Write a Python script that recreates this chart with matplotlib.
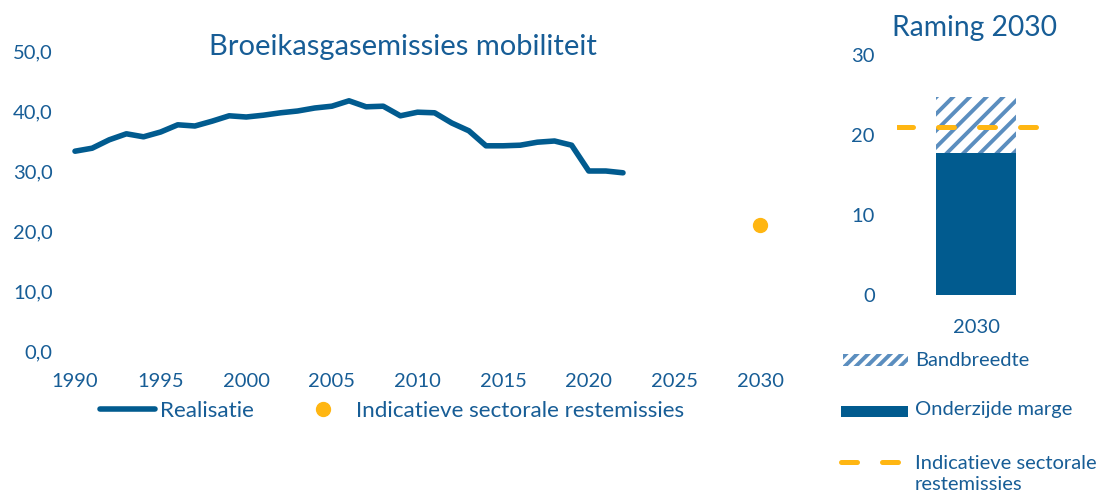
import matplotlib.pyplot as plt
from matplotlib.patches import Rectangle
from matplotlib.lines import Line2D

plt.rcParams['font.family'] = ['Lato', 'DejaVu Sans']
plt.rcParams['hatch.linewidth'] = 2.8

# data
years = list(range(1990, 2023))
realisatie = [33.3, 33.8, 35.2, 36.2, 35.7, 36.5, 37.7, 37.5, 38.3, 39.2,
              39.0, 39.3, 39.7, 40.0, 40.5, 40.8, 41.7, 40.7, 40.8, 39.2,
              39.8, 39.7, 38.0, 36.7, 34.2, 34.2, 34.3, 34.8, 35.0, 34.3,
              30.0, 30.0, 29.7]
target_year = [2030]
target_value = [21.0]
x_ticks = list(range(1990, 2031, 5))
y_ticks_left = [0, 10, 20, 30, 40, 50]

raming_label = ['2030']
onderzijde = [17.8]
bovenzijde = [24.8]
indicatief = 21.0
y_ticks_right = [0, 10, 20, 30]

BLUE = '#015B8F'
HATCH = '#5B8EBF'
ORANGE = '#FFB612'
TEXT = '#175D96'

W, H = 1096, 494
fig = plt.figure(figsize=(W / 100, H / 100), dpi=100)

# left chart
ax = fig.add_axes([75 / W, 143 / H, 685 / W, 300 / H])
ax.plot(years, realisatie, color=BLUE, lw=4, solid_capstyle='round',
        solid_joinstyle='round', clip_on=False, label='Realisatie')
ax.plot(target_year, target_value, 'o', color=ORANGE, ms=10, clip_on=False,
        label='Indicatieve sectorale restemissies')
ax.set_xlim(1990, 2030)
ax.set_ylim(0, 50)
ax.set_xticks(x_ticks)
ax.set_yticks(y_ticks_left)
ax.set_yticklabels([f'{v:.1f}'.replace('.', ',') for v in y_ticks_left])
for s in ax.spines.values():
    s.set_visible(False)
ax.tick_params(length=0, labelsize=14.5, labelcolor=TEXT)
ax.tick_params(axis='x', pad=16)
ax.tick_params(axis='y', pad=16)
fig.text(403 / W, 1 - 47 / H, 'Broeikasgasemissies mobiliteit',
         fontsize=21, color=TEXT, ha='center', va='center')
ax.legend(loc='center left', bbox_to_anchor=(100 / W, 83 / H),
          bbox_transform=fig.transFigure, ncol=2, frameon=False,
          fontsize=16.2, labelcolor=TEXT, handlelength=2.44,
          handletextpad=0.22, columnspacing=1.87, borderpad=0,
          borderaxespad=0)

# right chart
ax2 = fig.add_axes([897 / W, 199 / H, 158 / W, 240 / H])
ax2.bar([0.5], onderzijde, width=80 / 158, color=BLUE, lw=0)
ax2.bar([0.5], [b - o for b, o in zip(bovenzijde, onderzijde)],
        bottom=onderzijde, width=80 / 158, color='white', edgecolor=HATCH,
        hatch='//', lw=0)
ax2.axhline(indicatief, color=ORANGE, lw=3.6, dashes=(3.2, 5.0),
            dash_capstyle='round')
ax2.set_xlim(0, 1)
ax2.set_ylim(0, 30)
ax2.set_xticks([0.5])
ax2.set_xticklabels(raming_label)
ax2.set_yticks(y_ticks_right)
for s in ax2.spines.values():
    s.set_visible(False)
ax2.tick_params(length=0, labelsize=14.5, labelcolor=TEXT)
ax2.tick_params(axis='x', pad=17)
ax2.tick_params(axis='y', pad=16)
fig.text(975 / W, 1 - 28 / H, 'Raming 2030', fontsize=20.3, color=TEXT,
         ha='center', va='center')

# right legend, drawn by hand so the dashed entry sits on the first line
fig.add_artist(Rectangle((843 / W, 1 - 366 / H), 65 / W, 12 / H,
                         transform=fig.transFigure, facecolor='white',
                         edgecolor=HATCH, hatch='///', lw=0))
fig.text(915 / W, 1 - 360 / H, 'Bandbreedte', fontsize=14.5, color=TEXT,
         va='center')
fig.add_artist(Rectangle((841 / W, 1 - 417 / H), 67 / W, 11 / H,
                         transform=fig.transFigure, facecolor=BLUE, lw=0))
fig.text(915 / W, 1 - 410 / H, 'Onderzijde marge', fontsize=14.5, color=TEXT,
         va='center')
fig.add_artist(Line2D([841 / W, 903 / W], [1 - 462 / H, 1 - 462 / H],
                      transform=fig.transFigure, color=ORANGE, lw=3.6,
                      dashes=(3.2, 5.0), dash_capstyle='round'))
fig.text(915 / W, 1 - 474 / H, 'Indicatieve sectorale\nrestemissies',
         fontsize=14.5, color=TEXT, va='center', linespacing=1.25)

fig.savefig('out.png', dpi=100)
